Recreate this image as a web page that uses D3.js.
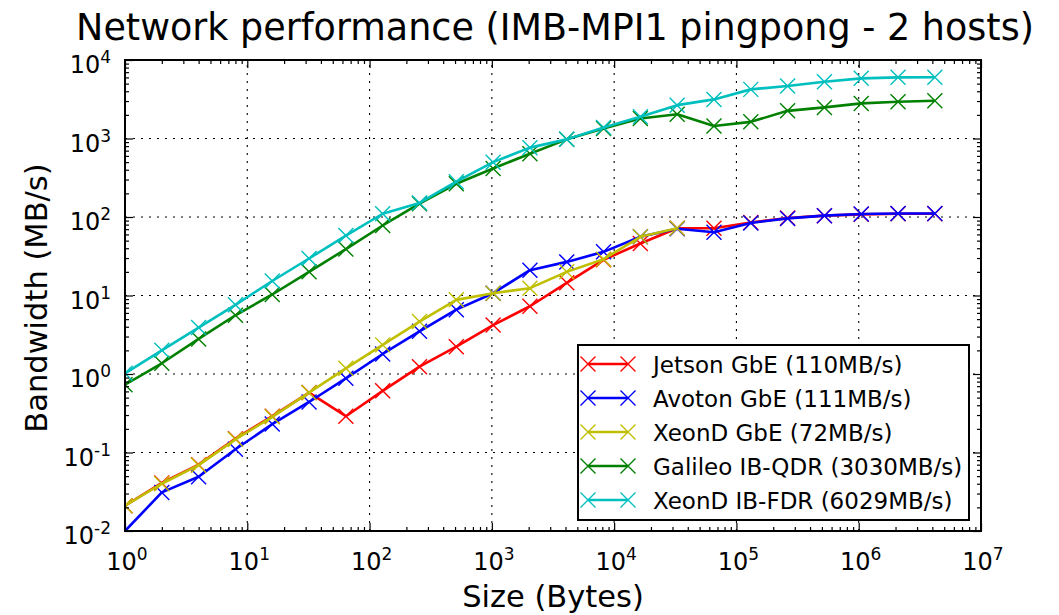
<!DOCTYPE html>
<html>
<head>
<meta charset="utf-8">
<script src="https://cdn.jsdelivr.net/npm/d3@7"></script>
<style>
  html, body { margin: 0; padding: 0; background: #fff; }
  svg { display: block; font-family: "DejaVu Sans", sans-serif; }
</style>
</head>
<body>
<svg id="chart" width="1059" height="615"></svg>
<script>
// Message sizes (bytes) of the IMB-MPI1 PingPong sweep
const messageSizes = [1, 2, 4, 8, 16, 32, 64, 128, 256, 512, 1024, 2048, 4096, 8192,
  16384, 32768, 65536, 131072, 262144, 524288, 1048576, 2097152, 4194304];

// Measured bandwidth (MB/s) per system
const jetsonGbE = [0.021, 0.041, 0.070, 0.15, 0.29, 0.58, 0.29, 0.61, 1.24, 2.23, 4.2, 7.3,
  14.5, 28.5, 46, 72, 72, 85, 97, 104, 108, 110, 110];
const avotonGbE = [0.010, 0.031, 0.049, 0.11, 0.23, 0.44, 0.88, 1.8, 3.5, 6.6, 10.7, 21,
  26.8, 36, 56, 71, 64, 84, 96, 104, 109, 111, 111];
const xeondGbE = [0.021, 0.040, 0.069, 0.147, 0.285, 0.578, 1.18, 2.35, 4.65, 8.8, 10.7, 12.4,
  20, 29, 56, 72];
const galileoIBQDR = [0.73, 1.37, 2.8, 5.6, 10.3, 20, 39, 78, 148, 265, 415, 640,
  975, 1345, 1800, 2040, 1440, 1630, 2250, 2490, 2800, 2940, 3030];
const xeondIBFDR = [1.02, 2.0, 3.9, 7.6, 15.3, 29.6, 58, 110, 151, 282, 500, 765,
  975, 1385, 1890, 2660, 3150, 4225, 4660, 5280, 5840, 6010, 6029];

const seriesLabels = ["Jetson GbE (110MB/s)", "Avoton GbE (111MB/s)", "XeonD GbE (72MB/s)",
  "Galileo IB-QDR (3030MB/s)", "XeonD IB-FDR (6029MB/s)"];
const seriesValues = [jetsonGbE, avotonGbE, xeondGbE, galileoIBQDR, xeondIBFDR];
const seriesColors = ["#ff0000", "#0000ff", "#bfbf00", "#008000", "#00bfbf"];

// Decade ticks
const xTickExponents = [0, 1, 2, 3, 4, 5, 6, 7];
const yTickExponents = [-2, -1, 0, 1, 2, 3, 4];

const titleText = "Network performance (IMB-MPI1 pingpong - 2 hosts)";
const xAxisTitle = "Size (Bytes)";
const yAxisTitle = "Bandwidth (MB/s)";

// Layout
const plot = { left: 125, right: 981, top: 60, bottom: 531 };
const svg = d3.select("#chart");

const x = d3.scaleLog().domain([1, 1e7]).range([plot.left, plot.right]);
const y = d3.scaleLog().domain([1e-2, 1e4]).range([plot.bottom, plot.top]);

const xMajor = xTickExponents.map(e => Math.pow(10, e));
const yMajor = yTickExponents.map(e => Math.pow(10, e));
function minorTicks(exps) {
  const out = [];
  for (let i = 0; i < exps.length - 1; i++) {
    for (let m = 2; m <= 9; m++) out.push(m * Math.pow(10, exps[i]));
  }
  return out;
}
const xMinor = minorTicks(xTickExponents);
const yMinor = minorTicks(yTickExponents);

// Clip region for the data
svg.append("defs").append("clipPath").attr("id", "plotClip")
  .append("rect")
  .attr("x", plot.left).attr("y", plot.top)
  .attr("width", plot.right - plot.left).attr("height", plot.bottom - plot.top);

// Dotted grid at decades
const grid = svg.append("g").attr("stroke", "#000").attr("stroke-width", 1.1)
  .attr("stroke-dasharray", "2,6").attr("fill", "none");
grid.selectAll(".gx").data(xMajor.slice(1, -1)).join("line")
  .attr("x1", d => x(d)).attr("x2", d => x(d))
  .attr("y1", plot.bottom).attr("y2", plot.top);
grid.selectAll(".gy").data(yMajor.slice(1, -1)).join("line")
  .attr("y1", d => y(d)).attr("y2", d => y(d))
  .attr("x1", plot.left).attr("x2", plot.right);

// Series: line then markers, drawn in legend order
const marker = "M-7.5,-7.5L7.5,7.5M-7.5,7.5L7.5,-7.5";
const lineGen = d3.line().x(d => x(d[0])).y(d => y(d[1]));
const dataLayer = svg.append("g").attr("clip-path", "url(#plotClip)");
seriesValues.forEach((vals, i) => {
  const pts = vals.map((v, j) => [messageSizes[j], v]);
  const g = dataLayer.append("g");
  g.append("path").attr("d", lineGen(pts)).attr("fill", "none")
    .attr("stroke", seriesColors[i]).attr("stroke-width", 2.6)
    .attr("stroke-linejoin", "round").attr("stroke-linecap", "butt");
  g.selectAll("path.m").data(pts).join("path").attr("class", "m")
    .attr("transform", d => `translate(${x(d[0])},${y(d[1])})`)
    .attr("d", marker).attr("fill", "none")
    .attr("stroke", seriesColors[i]).attr("stroke-width", 1.4);
});

// Axes with inward ticks on all four sides
function styleAxis(g) {
  g.select(".domain").remove();
  g.selectAll(".tick line").attr("stroke", "#000").attr("stroke-width", 1.2);
  g.selectAll(".tick text").remove();
}
const axes = svg.append("g");
axes.append("g").attr("transform", `translate(0,${plot.bottom})`)
  .call(d3.axisBottom(x).tickValues(xMajor).tickSizeInner(-8).tickSizeOuter(0)).call(styleAxis);
axes.append("g").attr("transform", `translate(0,${plot.bottom})`)
  .call(d3.axisBottom(x).tickValues(xMinor).tickSizeInner(-4).tickSizeOuter(0)).call(styleAxis);
axes.append("g").attr("transform", `translate(0,${plot.top})`)
  .call(d3.axisTop(x).tickValues(xMajor).tickSizeInner(-8).tickSizeOuter(0)).call(styleAxis);
axes.append("g").attr("transform", `translate(0,${plot.top})`)
  .call(d3.axisTop(x).tickValues(xMinor).tickSizeInner(-4).tickSizeOuter(0)).call(styleAxis);
axes.append("g").attr("transform", `translate(${plot.left},0)`)
  .call(d3.axisLeft(y).tickValues(yMajor).tickSizeInner(-8).tickSizeOuter(0)).call(styleAxis);
axes.append("g").attr("transform", `translate(${plot.left},0)`)
  .call(d3.axisLeft(y).tickValues(yMinor).tickSizeInner(-4).tickSizeOuter(0)).call(styleAxis);
axes.append("g").attr("transform", `translate(${plot.right},0)`)
  .call(d3.axisRight(y).tickValues(yMajor).tickSizeInner(-8).tickSizeOuter(0)).call(styleAxis);
axes.append("g").attr("transform", `translate(${plot.right},0)`)
  .call(d3.axisRight(y).tickValues(yMinor).tickSizeInner(-4).tickSizeOuter(0)).call(styleAxis);

// Frame
svg.append("rect").attr("x", plot.left).attr("y", plot.top)
  .attr("width", plot.right - plot.left).attr("height", plot.bottom - plot.top)
  .attr("fill", "none").attr("stroke", "#000").attr("stroke-width", 2);

// Power-of-ten tick labels
function powerLabel(sel, exp) {
  sel.append("tspan").attr("font-size", 24).text("10");
  sel.append("tspan").attr("font-size", 17).attr("dy", -10).text(String(exp));
}
xTickExponents.forEach(e => {
  const t = svg.append("text").attr("x", x(Math.pow(10, e)) + 2).attr("y", plot.bottom + 39)
    .attr("text-anchor", "middle").attr("fill", "#000");
  powerLabel(t, e);
});
yTickExponents.forEach(e => {
  const t = svg.append("text").attr("x", plot.left - 14).attr("y", y(Math.pow(10, e)) + 13)
    .attr("text-anchor", "end").attr("fill", "#000");
  powerLabel(t, e);
});

// Titles
svg.append("text").attr("x", (plot.left + plot.right) / 2 + 2).attr("y", 40)
  .attr("text-anchor", "middle").attr("font-size", 36.5).attr("fill", "#000").text(titleText);
svg.append("text").attr("x", (plot.left + plot.right) / 2).attr("y", 607)
  .attr("text-anchor", "middle").attr("font-size", 30.5).attr("fill", "#000").text(xAxisTitle);
svg.append("text").attr("transform", `translate(47,298) rotate(-90)`)
  .attr("text-anchor", "middle").attr("font-size", 30.5).attr("fill", "#000").text(yAxisTitle);

// Legend
const legend = svg.append("g").attr("transform", "translate(578,345)");
legend.append("rect").attr("width", 391).attr("height", 175)
  .attr("fill", "#fff").attr("stroke", "#000").attr("stroke-width", 2);
seriesLabels.forEach((label, i) => {
  const cy = 19 + i * 34;
  const row = legend.append("g").attr("transform", `translate(0,${cy})`);
  row.append("line").attr("x1", 10).attr("x2", 50).attr("y1", 0).attr("y2", 0)
    .attr("stroke", seriesColors[i]).attr("stroke-width", 2.6);
  [10, 50].forEach(mx => row.append("path").attr("d", marker)
    .attr("transform", `translate(${mx},0)`).attr("fill", "none")
    .attr("stroke", seriesColors[i]).attr("stroke-width", 1.4));
  row.append("text").attr("x", 75).attr("y", 9).attr("font-size", 23)
    .attr("fill", "#000").text(label);
});
</script>
</body>
</html>
